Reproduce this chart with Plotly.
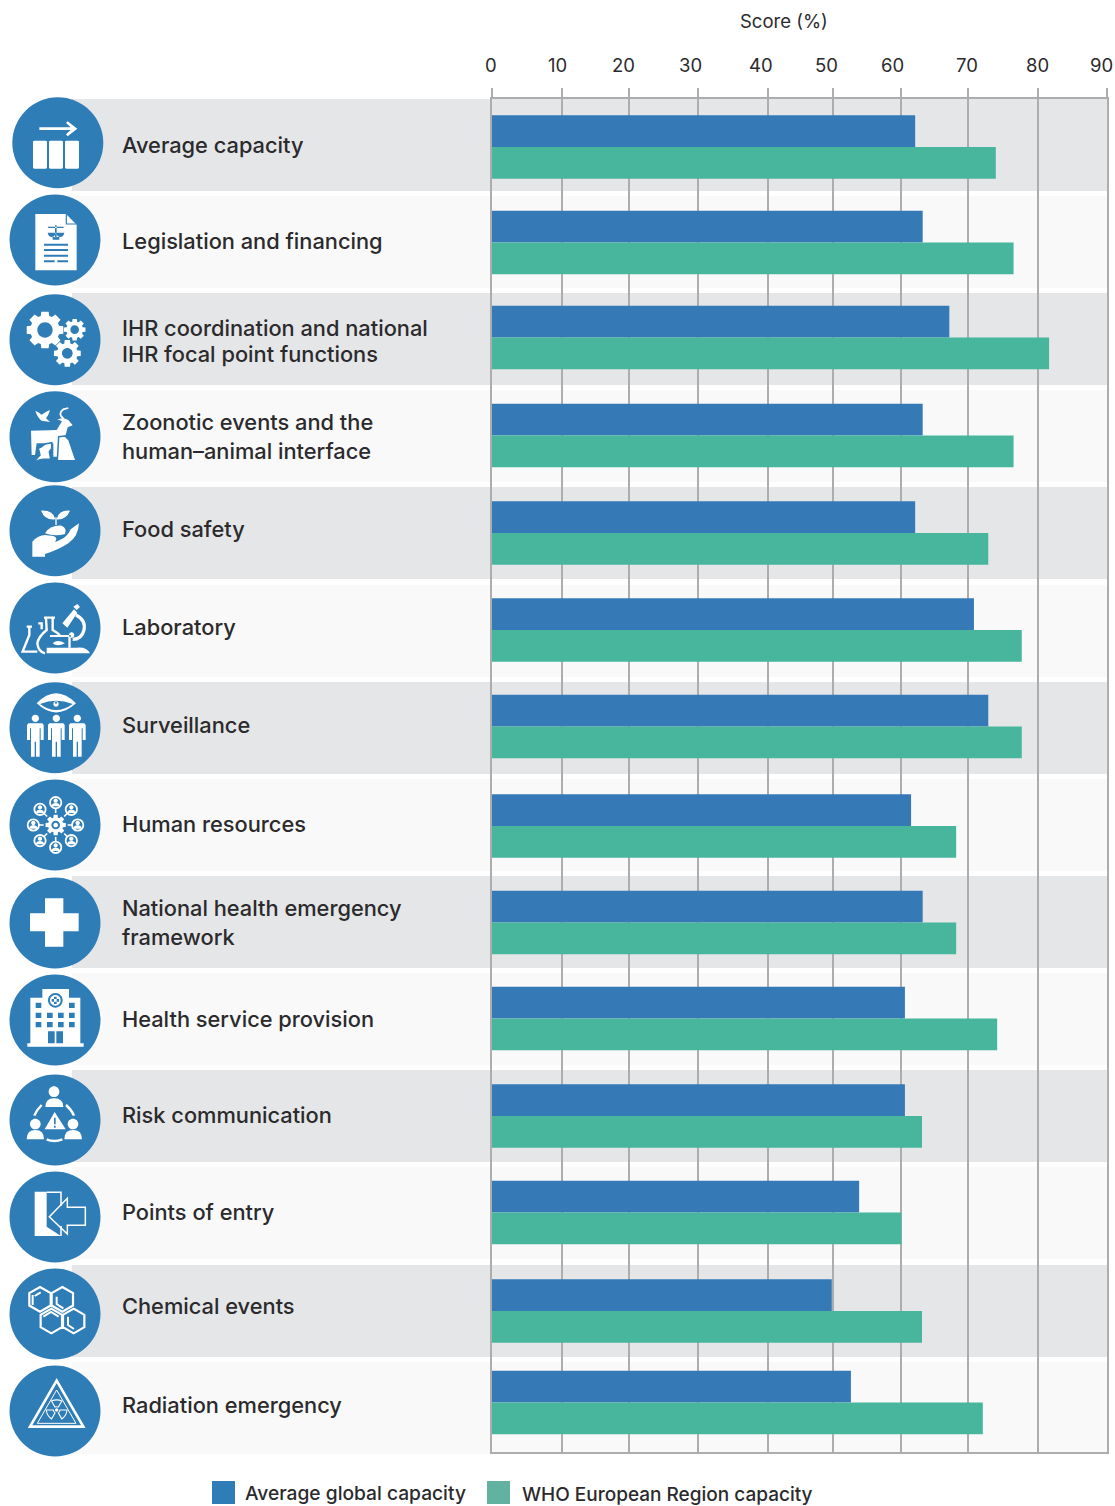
import math
import re
import plotly.graph_objects as go

W, H = 1115, 1506
FONT = "Inter, Roboto, sans-serif"
TXT = "#2b2a2c"
BAR_BLUE = "#357ab7"
BAR_GREEN = "#47b69d"
CIRCLE = "#2f7db7"
GRID = "#adadad"

CATEGORIES = [
    "Average capacity", "Legislation and financing",
    "IHR coordination and national<br>IHR focal point functions",
    "Zoonotic events and the<br>human\u2013animal interface", "Food safety",
    "Laboratory", "Surveillance", "Human resources",
    "National health emergency<br>framework", "Health service provision",
    "Risk communication", "Points of entry", "Chemical events",
    "Radiation emergency",
]
GLOBAL_AVG = [62, 63.1, 67, 63.1, 62, 70.6, 72.7, 61.4, 63.1, 60.5, 60.5, 53.8, 49.8, 52.6]
EUROPE = [73.8, 76.4, 81.6, 76.4, 72.7, 77.6, 77.6, 68, 68, 74, 63, 60, 63, 71.9]
XTICKS = [0, 10, 20, 30, 40, 50, 60, 70, 80, 90]
XTICK_LABELS = ["0", "10", "20", "30", "40", "50", "60", "70", "80", "90"]

# ---- layout constants, in page pixels ----
PLOT_L, PLOT_R, PLOT_T, PLOT_B = 491.5, 1106.5, 98.5, 1452
PX_PER_UNIT = (PLOT_R - PLOT_L) / 90
GRID_PX = [491.8, 561.8, 628.9, 698.4, 767.5, 832.5, 900.9, 967.9, 1038.3, 1106.5]
TICK_LABEL_PX = [491, 557, 623, 690, 761, 826, 892, 967, 1037, 1101]
BAR_MID = [147, 242.5, 337.5, 435.5, 533, 630, 726.5, 826, 922.5, 1018.5, 1116, 1212.5, 1311, 1402.5]
BAR_H = 31.7
BAND_TOP = [99, 196, 293, 390, 487, 585, 682, 779, 876, 973, 1070, 1167, 1265, 1362]
BAND_H = 92
CIRCLE_C = [(57.8, 142.8), (55, 240), (55, 339.7), (55, 436.7), (55, 530.7), (55, 628), (55, 727.7),
            (55, 825), (55, 923), (55, 1020), (55, 1120), (55, 1217), (55, 1314), (55, 1411)]
LABEL_Y = [[145], [241], [328, 354], [422, 451], [529], [627], [725], [824], [908, 937],
           [1019], [1115], [1212], [1306], [1405]]

NUM = re.compile(r"-?\d+\.?\d*")


def page_path(path, oy=0.0):
    """Zoomed crop coordinates (3x, crop top at oy) to paper coordinates."""
    i = [0]

    def sub(m):
        v = float(m.group(0))
        i[0] += 1
        if i[0] % 2:
            return f"{v / 3 / W:.6f}"
        return f"{1 - (oy + v / 3) / H:.6f}"

    return NUM.sub(sub, path)


def px(x):
    return x / W


def py(y):
    return 1 - y / H


def circ(cx, cy, r):
    k = 0.5523 * r
    return (f"M{cx-r},{cy} C{cx-r},{cy-k} {cx-k},{cy-r} {cx},{cy-r} C{cx+k},{cy-r} {cx+r},{cy-k} {cx+r},{cy} "
            f"C{cx+r},{cy+k} {cx+k},{cy+r} {cx},{cy+r} C{cx-k},{cy+r} {cx-r},{cy+k} {cx-r},{cy} Z ")


def rect(x0, y0, x1, y1):
    return f"M{x0},{y0} L{x1},{y0} L{x1},{y1} L{x0},{y1} Z "


def rrect(x0, y0, x1, y1, r=4):
    return (f"M{x0+r},{y0} L{x1-r},{y0} Q{x1},{y0} {x1},{y0+r} L{x1},{y1-r} Q{x1},{y1} {x1-r},{y1} "
            f"L{x0+r},{y1} Q{x0},{y1} {x0},{y1-r} L{x0},{y0+r} Q{x0},{y0} {x0+r},{y0} Z ")


def poly(pts, close=True):
    s = "M" + " L".join(f"{x},{y}" for x, y in pts)
    return s + (" Z " if close else " ")


def gear(cx, cy, ro, ri, teeth, hole):
    pts = []
    step = 2 * math.pi / teeth
    for n in range(teeth):
        a = n * step
        for da, r in ((-0.30, ri), (-0.20, ro), (0.20, ro), (0.30, ri)):
            t = a + da * step * 1.25
            pts.append((round(cx + r * math.cos(t), 2), round(cy + r * math.sin(t), 2)))
    return poly(pts) + circ(cx, cy, hole)


def hexagon(cx, cy, r):
    return poly([(round(cx + r * math.sin(i * math.pi / 3), 2), round(cy - r * math.cos(i * math.pi / 3), 2))
                 for i in range(6)])


def person(dx):
    base = [(85, 730), (127, 730), (131, 735), (131, 780), (122, 780), (122, 745), (119, 745), (119, 830),
            (108, 830), (108, 785), (104, 785), (104, 830), (93, 830), (93, 745), (90, 745), (90, 780),
            (81, 780), (81, 735)]
    return poly([(x + dx, y) for x, y in base]) + circ(106 + dx, 715, 11)


def blade(cx, cy, ang, r0=10, r1=31, half=30):
    a0, a1 = math.radians(ang - half), math.radians(ang + half)
    am = math.radians(ang)
    p = lambda r, t: f"{cx + r * math.cos(t):.2f},{cy + r * math.sin(t):.2f}"
    return f"M{p(r0, a0)} L{p(r1, a0)} Q{p(r1 * 1.1, am)} {p(r1, a1)} L{p(r0, a1)} Q{p(r0 * 1.1, am)} {p(r0, a0)} Z "


WHITE = dict(fill="white")
BLUE = dict(fill=CIRCLE)


def W_LINE(w=2.0):
    return dict(stroke="white", w=w)


def B_LINE(w=1.5):
    return dict(stroke=CIRCLE, w=w)


hr_centres = [(167, 968), (214, 988), (233, 1035), (214, 1082), (167, 1102), (120, 1082), (100, 1035), (120, 988)]
hr_people = ""
for cx, cy in hr_centres:
    hr_people += circ(cx, cy - 6, 6.5) + f"M{cx-12},{cy+11} Q{cx-12},{cy+1} {cx},{cy+1} Q{cx+12},{cy+1} {cx+12},{cy+11} Z "
hr_rings = "".join(circ(cx, cy, 17) for cx, cy in hr_centres)
hr_spokes = ""
for cx, cy in hr_centres:
    dx, dy = cx - 167, cy - 1035
    d = math.hypot(dx, dy)
    hr_spokes += f"M{167 + dx / d * 36:.1f},{1035 + dy / d * 36:.1f} L{167 + dx / d * 50:.1f},{1035 + dy / d * 50:.1f} "

ICONS = [
    (90, [
        ("M118,112 L212,112 L198,99 L203,94 L232,116 L203,139 L198,133 L212,120 L118,120 Z", WHITE),
        (rrect(99, 152, 141, 236) + rrect(147, 152, 189, 236) + rrect(195, 152, 237, 236), WHITE),
    ]),
    (90, [
        ("M106,372 L198,372 L230,404 L230,541 L106,541 Z", WHITE),
        ("M199,372 L199,402 L230,402", B_LINE(1.2)),
        (rect(132, 461, 204, 467) + rect(132, 477, 204, 483) + rect(132, 494, 204, 500) +
         rect(132, 511, 164, 517) + rect(172, 511, 204, 517) + rect(144, 410, 191, 414) + rect(165, 406, 170, 442) +
         rect(158, 441, 178, 449) +
         "M143,428 Q146,441 155,441 Q164,441 167,428 Z M169,428 Q172,441 181,441 Q190,441 193,428 Z", BLUE),
    ]),
    (90, [
        (gear(135, 720, 56, 44, 8, 23) + gear(224, 719, 33, 25, 8, 13) + gear(202, 790, 41, 31, 8, 16), WHITE),
    ]),
    (90, [
        ("M106,962 Q118,968 125,974 Q135,966 150,960 Q146,975 138,985 L150,996 L125,992 Q112,982 106,962 Z", WHITE),
        ("M190,985 Q172,972 190,958 L205,954", W_LINE(1.8)),
        (poly([(93, 1022), (170, 1020), (186, 994), (172, 988), (190, 984), (205, 990), (218, 1006), (203, 1012),
               (197, 1035), (186, 1045), (180, 1100), (160, 1100), (160, 1060), (110, 1060), (105, 1095), (95, 1095)]), WHITE),
        (poly([(100, 1117), (120, 1095), (115, 1075), (125, 1070), (135, 1062), (155, 1058), (155, 1075),
               (148, 1085), (152, 1107), (130, 1108), (115, 1111)]), dict(fill="white", stroke=CIRCLE, w=1.5)),
        (poly([(172, 1112), (176, 1040), (195, 1038), (207, 1050), (225, 1103), (229, 1112)]),
         dict(fill="white", stroke=CIRCLE, w=1.5)),
    ]),
    (480, [
        ("M123,92 Q160,90 166,118 Q135,122 123,92 Z M210,92 Q175,90 170,118 Q198,120 210,92 Z" , WHITE),
        (rect(166, 112, 170, 135), WHITE),
        ("M135,160 Q150,135 185,137 Q202,145 195,162 Q165,170 135,160 Z", WHITE),
        ("M97,230 L97,185 Q115,165 135,165 L160,168 Q175,172 165,187 L190,175 Q205,165 212,148 L237,130 "
         "Q235,170 205,190 Q175,210 135,222 L135,230 Z", WHITE),
    ]),
    (480, [
        ("M140,503 L230,503 Q260,500 270,520 L140,520 Z", WHITE),
        (poly([(187, 430), (222, 388), (232, 398), (202, 443)]) + poly([(220, 380), (232, 372), (240, 381), (230, 390)]), WHITE),
        ("M228,405 Q258,420 252,450 Q245,478 218,478", W_LINE(3.2)),
        (rect(150, 465, 212, 471) + circ(215, 465, 8) + "M158,490 Q172,476 195,490 Q172,502 158,490 Z" + rect(205, 471, 212, 503), WHITE),
        ("M88,440 L88,465 L68,515 L112,515 M80,440 L96,440 M138,415 L140,450 Q115,470 112,490 Q115,515 135,520 "
         "M158,415 L158,450 Q172,458 180,466 M132,413 L165,413 M115,430 L125,430 L125,448", W_LINE(2.4)),
    ]),
    (480, [
        ("M110,670 Q168,610 228,670 Q168,725 110,670 Z", WHITE),
        ("M120,672 Q168,652 218,672 Q168,708 120,672 Z", BLUE),
        (circ(168, 672, 8), WHITE),
        (circ(168, 668, 3), BLUE),
        (person(0) + person(63) + person(126), WHITE),
    ]),
    (480, [
        (gear(167, 1035, 31, 23, 8, 13) + circ(167, 1035, 7), WHITE),
        (hr_people, WHITE),
        (hr_rings, W_LINE(1.8)),
        (hr_spokes, W_LINE(1.6)),
    ]),
    (870, [
        (poly([(135, 85), (190, 85), (190, 130), (236, 130), (236, 184), (190, 184), (190, 230), (135, 230),
               (135, 184), (90, 184), (90, 130), (135, 130)]), WHITE),
    ]),
    (870, [
        (rect(82, 520, 251, 530) + rect(91, 383, 241, 520) + rect(127, 357, 207, 383), WHITE),
        (circ(166, 391, 22), BLUE),
        (circ(166, 391, 16), WHITE),
        (rect(162, 380, 170, 402) + rect(155, 387, 177, 395), BLUE),
        ("".join(rect(x, y, x + 17, y + 16) for x, y in
                 [(107, 398), (207, 398), (107, 428), (141, 428), (174, 428), (207, 428), (107, 456), (141, 456),
                  (174, 456), (207, 456)]) + rect(144, 484, 164, 520) + rect(169, 484, 189, 520), BLUE),
    ]),
    (870, [
        (circ(162, 665, 16) + "M136,711 Q136,685 162,685 Q190,685 190,711 Z", WHITE),
        (circ(106, 762, 16) + "M80,808 Q80,780 106,780 Q132,780 132,808 Z", WHITE),
        (circ(219, 762, 16) + "M193,808 Q193,780 219,780 Q246,780 246,808 Z", WHITE),
        ("M164,726 L197,778 L134,778 Z", WHITE),
        (rect(162, 743, 167, 763) + rect(162, 767, 167, 773), BLUE),
        ("M125,705 Q110,720 103,737 M198,705 Q215,720 222,737 M140,808 Q162,818 187,808", W_LINE(2.4)),
    ]),
    (870, [
        (poly([(104, 965), (140, 965), (140, 1070), (183, 1098), (104, 1098)]), WHITE),
        ("M140,967 L183,967 L183,1008 M183,1068 L183,1098", W_LINE(1.5)),
        ("M148,1040 L202,985 L202,1012 L256,1012 L256,1066 L202,1066 L202,1092 Z", W_LINE(1.5)),
    ]),
    (1260, [
        (hexagon(120, 118, 37) + hexagon(187, 118, 37) + hexagon(154, 183, 37) + hexagon(221, 183, 37), W_LINE(2.2)),
        ("M98,105 L98,135 M104,108 L122,97 M170,110 L170,132 L190,145 M130,170 L153,156 L176,170 "
         "M204,170 L204,195 L222,207", W_LINE(2.0)),
    ]),
    (1260, [
        ("M170,362 L250,500 L90,500 Z", W_LINE(2.6)),
        ("M170,390 L228,490 L112,490 Z", W_LINE(1.0)),
        (circ(170, 450, 5), WHITE),
        (blade(170, 450, -90) + blade(170, 450, 30) + blade(170, 450, 150), W_LINE(1.1)),
    ]),
]

shapes = []

# row bands
for i, top in enumerate(BAND_TOP):
    shapes.append(dict(type="rect", xref="paper", yref="paper", x0=px(72), x1=px(1107), y0=py(top),
                       y1=py(top + BAND_H), fillcolor="#e5e6e8" if i % 2 == 0 else "#f9f9f9",
                       line_width=0, layer="below"))

# icon discs and glyphs
for (cx, cy), (oy, parts) in zip(CIRCLE_C, ICONS):
    r = 45.5
    shapes.append(dict(type="circle", xref="paper", yref="paper", x0=px(cx - r), x1=px(cx + r), y0=py(cy - r),
                       y1=py(cy + r), fillcolor=CIRCLE, line_width=0, layer="above"))
    for path, st in parts:
        shape = dict(type="path", xref="paper", yref="paper", path=page_path(path, oy), layer="above")
        shape["fillcolor"] = st.get("fill", "rgba(0,0,0,0)")
        if "stroke" in st:
            shape["line"] = dict(color=st["stroke"], width=st["w"])
        else:
            shape["line_width"] = 0
        shapes.append(shape)

# legend swatches
LEGEND = [("Average global capacity", "#2f7db7", 212, 243, 1492.5, 19.2),
          ("WHO European Region capacity", "#62b2a2", 487, 520, 1494.5, 19.0)]
for _, col, x0, _, _, _ in LEGEND:
    shapes.append(dict(type="rect", xref="paper", yref="paper", x0=px(x0), x1=px(x0 + 23), y0=py(1481), y1=py(1504),
                       fillcolor=col, line_width=0))

annotations = []


def add_text(text, x, y, size, anchor="left", weight=500):
    annotations.append(dict(text=text, x=px(x), y=py(y), xref="paper", yref="paper", xanchor=anchor, yanchor="middle",
                            showarrow=False, font=dict(family=FONT, size=size, color=TXT, weight=weight)))


for cat, ys in zip(CATEGORIES, LABEL_Y):
    for line, y in zip(cat.split("<br>"), ys):
        add_text(line, 120, y, 21.8)
for lab, x in zip(XTICK_LABELS, TICK_LABEL_PX):
    add_text(lab, x, 65, 18.5, "center", 400)
add_text("Score (%)", 784, 21, 18.5, "center", 400)
for name, _, _, tx, ty, sz in LEGEND:
    add_text(name, tx, ty, sz)

plain = [c.replace("<br>", " ") for c in CATEGORIES]
fig = go.Figure()
fig.add_bar(y=BAR_MID, x=GLOBAL_AVG, orientation="h", width=BAR_H, offset=-BAR_H, marker=dict(color=BAR_BLUE, line_width=0),
            name="Average global capacity", customdata=plain, hovertemplate="%{customdata}: %{x}<extra></extra>")
fig.add_bar(y=BAR_MID, x=EUROPE, orientation="h", width=BAR_H, offset=0, marker=dict(color=BAR_GREEN, line_width=0),
            name="WHO European Region capacity", customdata=plain, hovertemplate="%{customdata}: %{x}<extra></extra>")

# gridlines sit where the reference draws them, slightly off the even spacing
grid_vals = [(g - PLOT_L) / PX_PER_UNIT for g in GRID_PX]

fig.update_layout(
    width=W, height=H, autosize=False, margin=dict(l=0, r=0, t=0, b=0, pad=0),
    paper_bgcolor="white", plot_bgcolor="rgba(0,0,0,0)", barmode="overlay", showlegend=False,
    shapes=shapes, annotations=annotations,
    xaxis=dict(domain=[PLOT_L / W, PLOT_R / W], range=[0, XTICKS[-1]], side="top", tickmode="array", tickvals=grid_vals,
               showticklabels=False, ticks="outside", ticklen=9, tickwidth=1.5, tickcolor=GRID, showgrid=True,
               gridcolor=GRID, gridwidth=1.5, showline=True, linecolor=GRID, linewidth=1.5, mirror=True, zeroline=False),
    yaxis=dict(domain=[1 - PLOT_B / H, 1 - PLOT_T / H], range=[PLOT_B, PLOT_T], showticklabels=False, ticks="",
               showgrid=False, showline=True, linecolor=GRID, linewidth=1.5, mirror=True, zeroline=False),
)

fig.write_html("out.html", config=dict(displayModeBar=False), post_script="document.body.style.margin='0';document.body.style.overflow='hidden';")
